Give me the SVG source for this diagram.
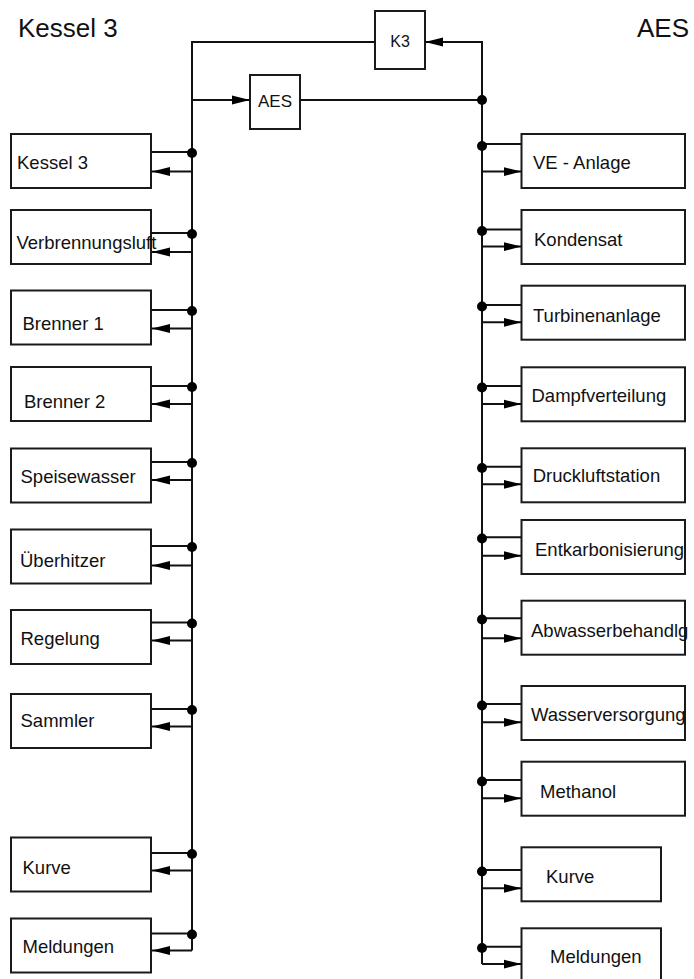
<svg xmlns="http://www.w3.org/2000/svg" width="694" height="979" viewBox="0 0 694 979">
<style>
  .box{fill:#fff;stroke:#1a1a1a;stroke-width:2}
  .lbl{font-family:"Liberation Sans",Arial,sans-serif;font-size:18.5px;fill:#111}
  .title{font-family:"Liberation Sans",Arial,sans-serif;font-size:26px;fill:#111}
  .ln{fill:none;stroke:#111;stroke-width:2}
  .ar{fill:none;stroke:#111;stroke-width:2;marker-end:url(#ah)}
  .dot{fill:#000}
</style>
<defs>
  <marker id="ah" markerUnits="userSpaceOnUse" markerWidth="18" markerHeight="10" refX="18" refY="5" orient="auto">
    <path d="M0,0.5 L18,5 L0,9.5 z" fill="#000"/>
  </marker>
</defs>
<rect width="694" height="979" fill="#fff"/>
<text class="title" x="18" y="37">Kessel 3</text>
<text class="title" x="637" y="37">AES</text>

<g id="K3"><rect class="box" x="375" y="11" width="50" height="58"/><text class="lbl" x="400" y="47" text-anchor="middle" style="font-size:16px">K3</text></g>
<g id="AES"><rect class="box" x="250" y="75" width="50" height="54"/><text class="lbl" x="275" y="107" text-anchor="middle" style="font-size:17px">AES</text></g>

<g id="L1"><rect class="box" x="11" y="134" width="140" height="54"/><text class="lbl" x="17" y="169">Kessel 3</text></g>
<g id="L2"><rect class="box" x="11" y="210" width="140" height="54"/><text class="lbl" x="16.5" y="248.5">Verbrennungsluft</text></g>
<g id="L3"><rect class="box" x="11" y="290.5" width="140" height="54"/><text class="lbl" x="22.5" y="330">Brenner 1</text></g>
<g id="L4"><rect class="box" x="11" y="367" width="140" height="54"/><text class="lbl" x="24" y="408">Brenner 2</text></g>
<g id="L5"><rect class="box" x="11" y="448.5" width="140" height="54"/><text class="lbl" x="20.5" y="482.5">Speisewasser</text></g>
<g id="L6"><rect class="box" x="11" y="529.5" width="140" height="54"/><text class="lbl" x="20" y="566.5">Überhitzer</text></g>
<g id="L7"><rect class="box" x="11" y="610" width="140" height="54"/><text class="lbl" x="20.5" y="645">Regelung</text></g>
<g id="L8"><rect class="box" x="11" y="694" width="140" height="54"/><text class="lbl" x="20.5" y="727">Sammler</text></g>
<g id="L9"><rect class="box" x="11" y="837.5" width="140" height="54"/><text class="lbl" x="22.5" y="874">Kurve</text></g>
<g id="L10"><rect class="box" x="11" y="918.5" width="140" height="54"/><text class="lbl" x="22.5" y="953">Meldungen</text></g>

<g id="R1"><rect class="box" x="521.5" y="134" width="163.5" height="54"/><text class="lbl" x="533" y="169">VE - Anlage</text></g>
<g id="R2"><rect class="box" x="521.5" y="210" width="163.5" height="54"/><text class="lbl" x="534" y="246">Kondensat</text></g>
<g id="R3"><rect class="box" x="521.5" y="285.7" width="163.5" height="54"/><text class="lbl" x="533" y="321.7">Turbinenanlage</text></g>
<g id="R4"><rect class="box" x="521.5" y="367.3" width="163.5" height="54"/><text class="lbl" x="531.5" y="401.7">Dampfverteilung</text></g>
<g id="R5"><rect class="box" x="521.5" y="448.3" width="163.5" height="54"/><text class="lbl" x="532.7" y="482.3">Druckluftstation</text></g>
<g id="R6"><rect class="box" x="521.5" y="520" width="163.5" height="54"/><text class="lbl" x="535" y="556">Entkarbonisierung</text></g>
<g id="R7"><rect class="box" x="521.5" y="600.7" width="163.5" height="54"/><text class="lbl" x="531" y="636.7">Abwasserbehandlg</text></g>
<g id="R8"><rect class="box" x="521.5" y="686" width="163.5" height="54"/><text class="lbl" x="531" y="720.7">Wasserversorgung</text></g>
<g id="R9"><rect class="box" x="521.5" y="761.7" width="163.5" height="54"/><text class="lbl" x="540" y="798.3">Methanol</text></g>
<g id="R10"><rect class="box" x="521.5" y="847.3" width="139.5" height="54"/><text class="lbl" x="546" y="883.3">Kurve</text></g>
<g id="R11"><rect class="box" x="521.5" y="928.3" width="139.5" height="60"/><text class="lbl" x="550" y="963.3">Meldungen</text></g>

<g id="connectors">
  <path class="ln" d="M375,42 H192 V950.5"/>
  <path class="ln" d="M300,100 H482 V964"/>
  <path class="ar" d="M482,100 V42 H425"/>
  <path class="ar" d="M192,100 H250"/>
  <circle class="dot" cx="482" cy="100" r="5"/>
  <path class="ln" d="M151,152 H192"/><circle class="dot" cx="192" cy="153" r="5"/><path class="ar" d="M192,171.5 H152"/>
  <path class="ln" d="M151,233 H192"/><circle class="dot" cx="192" cy="234" r="5"/><path class="ar" d="M192,252 H152"/>
  <path class="ln" d="M151,310 H192"/><circle class="dot" cx="192" cy="311" r="5"/><path class="ar" d="M192,328.5 H152"/>
  <path class="ln" d="M151,386 H192"/><circle class="dot" cx="192" cy="387" r="5"/><path class="ar" d="M192,404 H152"/>
  <path class="ln" d="M151,462 H192"/><circle class="dot" cx="192" cy="463" r="5"/><path class="ar" d="M192,480 H152"/>
  <path class="ln" d="M151,546 H192"/><circle class="dot" cx="192" cy="547" r="5"/><path class="ar" d="M192,565.5 H152"/>
  <path class="ln" d="M151,622.5 H192"/><circle class="dot" cx="192" cy="623.5" r="5"/><path class="ar" d="M192,640.5 H152"/>
  <path class="ln" d="M151,709 H192"/><circle class="dot" cx="192" cy="710" r="5"/><path class="ar" d="M192,726.5 H152"/>
  <path class="ln" d="M151,853 H192"/><circle class="dot" cx="192" cy="854" r="5"/><path class="ar" d="M192,870.5 H152"/>
  <path class="ln" d="M151,933.5 H192"/><circle class="dot" cx="192" cy="934.5" r="5"/><path class="ar" d="M192,950.5 H152"/>
  <path class="ln" d="M482,144 H521.5"/><circle class="dot" cx="482" cy="146" r="5"/><path class="ar" d="M482,171.5 H521.5"/>
  <path class="ln" d="M482,229.5 H521.5"/><circle class="dot" cx="482" cy="231" r="5"/><path class="ar" d="M482,246.5 H521.5"/>
  <path class="ln" d="M482,305 H521.5"/><circle class="dot" cx="482" cy="306.5" r="5"/><path class="ar" d="M482,322.3 H521.5"/>
  <path class="ln" d="M482,386 H521.5"/><circle class="dot" cx="482" cy="387.5" r="5"/><path class="ar" d="M482,404 H521.5"/>
  <path class="ln" d="M482,466.7 H521.5"/><circle class="dot" cx="482" cy="468" r="5"/><path class="ar" d="M482,484.3 H521.5"/>
  <path class="ln" d="M482,537.3 H521.5"/><circle class="dot" cx="482" cy="538.5" r="5"/><path class="ar" d="M482,555.7 H521.5"/>
  <path class="ln" d="M482,618.3 H521.5"/><circle class="dot" cx="482" cy="619.5" r="5"/><path class="ar" d="M482,638.3 H521.5"/>
  <path class="ln" d="M482,704 H521.5"/><circle class="dot" cx="482" cy="705.5" r="5"/><path class="ar" d="M482,722.3 H521.5"/>
  <path class="ln" d="M482,780 H521.5"/><circle class="dot" cx="482" cy="781.5" r="5"/><path class="ar" d="M482,798.3 H521.5"/>
  <path class="ln" d="M482,870 H521.5"/><circle class="dot" cx="482" cy="871.5" r="5"/><path class="ar" d="M482,888.3 H521.5"/>
  <path class="ln" d="M482,946.7 H521.5"/><circle class="dot" cx="482" cy="948" r="5"/><path class="ar" d="M482,964 H521.5"/>
</g>
</svg>
